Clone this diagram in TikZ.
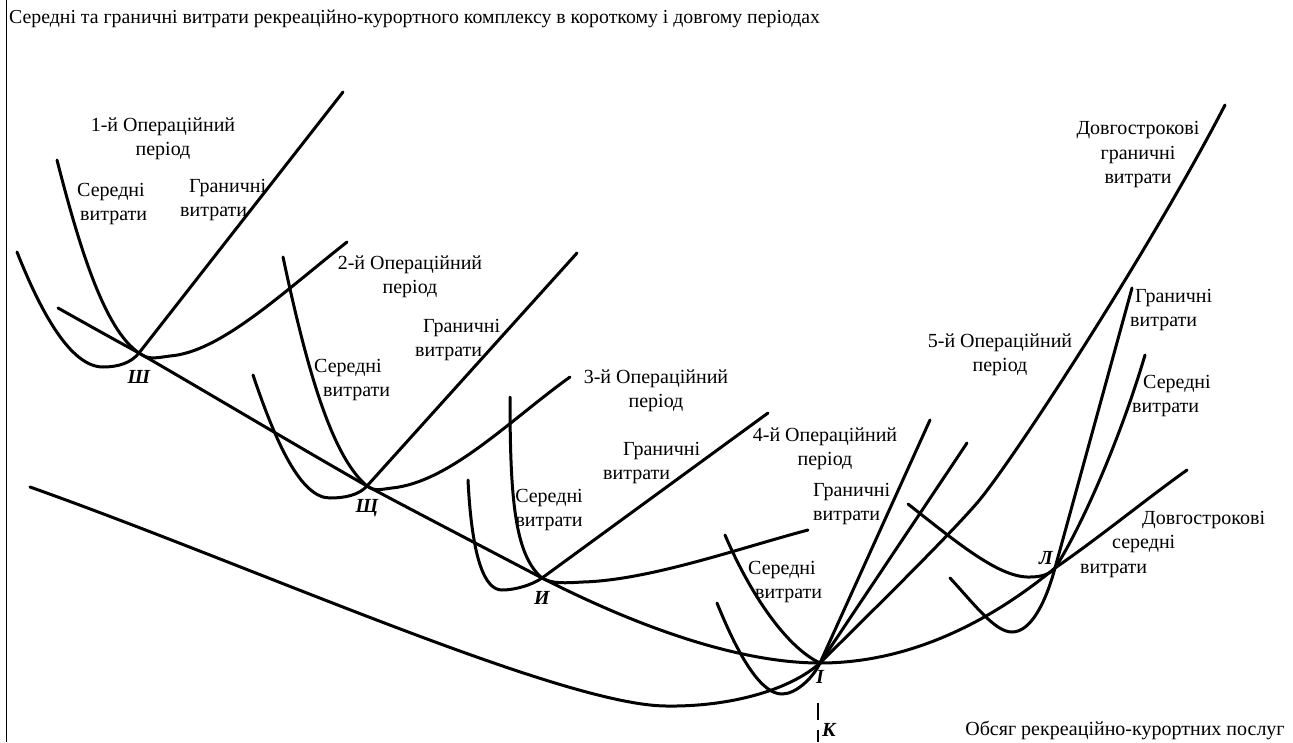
\documentclass[tikz,border=0pt]{standalone}
\usepackage{fontspec}
\setmainfont{Liberation Serif}
\newfontfamily\trfont{Liberation Serif}
\usepackage{tikz}
\usetikzlibrary{positioning}

\begin{document}
\begin{tikzpicture}[x=1pt, y=-1pt,
  curve/.style={line width=3pt, line cap=round, line join=round},
  lbl/.style={align=center, font=\trfont\fontsize{20}{24.5}\selectfont, inner sep=0pt},
  lbll/.style={lbl, align=left, anchor=west},
  ptlbl/.style={font=\trfont\fontsize{20}{24}\selectfont\bfseries\itshape, inner sep=0pt}]
  \useasboundingbox (0,0) rectangle (1293,742);

  % meeting points
  \coordinate (sh) at (139,353);
  \coordinate (shch) at (367,486);
  \coordinate (y) at (542,578);
  \coordinate (i) at (820,663);
  \coordinate (l) at (1055,568);
  \coordinate (ktop) at (818,703);
  \coordinate (kbot) at (818,742);

  \draw[line width=1pt] (6,0) -- (6,742);
  \node[lbl, font=\trfont\fontsize{19.8}{24}\selectfont, anchor=base west] (title) at (9,23)
    {Середні та граничні витрати рекреаційно-курортного комплексу в короткому і довгому періодах};

  % long run
  \draw[curve] (58,308) .. controls (90,326) and (115,340) .. (sh)
    .. controls (215,397) and (290,442) .. (shch)
    .. controls (425,517) and (485,548) .. (y)
    .. controls (640,628) and (740,663) .. (i)
    .. controls (900,663) and (980,630) .. (l)
    .. controls (1100,537) and (1145,500) .. (1187,470);
  \draw[curve] (30,487) .. controls (250,565) and (560,705) .. (666,706)
    .. controls (730,707) and (790,690) .. (i)
    .. controls (860,623) and (945,540) .. (977,503)
    .. controls (1010,465) and (1150,250) .. (1225,105);

  % periods
  \draw[curve] (17,252) .. controls (40,310) and (70,367) .. (103,367)
    .. controls (118,367) and (131,363) .. (sh) -- (343,92);
  \draw[curve] (57,160) .. controls (80,250) and (105,330) .. (sh)
    .. controls (148,360) and (155,358) .. (170,356)
    .. controls (220,352) and (280,295) .. (347,242);
  \draw[curve] (253,375) .. controls (275,440) and (300,498) .. (330,498)
    .. controls (345,498) and (359,495) .. (shch) -- (577,253);
  \draw[curve] (283,257) .. controls (305,360) and (330,455) .. (shch)
    .. controls (375,492) and (382,489) .. (392,488)
    .. controls (450,482) and (510,420) .. (570,377);
  \draw[curve] (468,480) .. controls (472,560) and (485,590) .. (502,590)
    .. controls (515,590) and (532,585) .. (y) -- (768,413);
  \draw[curve] (510,397) .. controls (510,500) and (515,555) .. (y)
    .. controls (552,584) and (565,583) .. (583,582)
    .. controls (650,580) and (740,548) .. (808,530);
  \draw[curve] (717,603) .. controls (740,660) and (762,694) .. (782,694)
    .. controls (796,694) and (813,678) .. (i) -- (930,420);
  \draw[curve] (725,535) .. controls (752,598) and (788,648) .. (i) -- (967,443);
  \draw[curve] (908,504) .. controls (960,545) and (1000,578) .. (1030,577)
    .. controls (1042,577) and (1050,574) .. (l)
    .. controls (1080,530) and (1120,440) .. (1145,355);
  \draw[curve] (950,578) .. controls (975,605) and (995,632) .. (1012,632)
    .. controls (1030,632) and (1045,605) .. (l) -- (1132,288);

  \draw[line width=1.2pt, dash pattern=on 17pt off 10pt] (ktop) -- (kbot);

  \node[lbl] (per1) at (163,139) {1-й Операційний\\період};
  \node[lbll] (sac1) at (77,204) {Середні\\\hspace*{3pt}витрати};
  \node[lbll] (smc1) at (180,200) {\hspace*{9pt}Граничні\\витрати};
  \node[lbl] (per2) at (410,277) {2-й Операційний\\період};
  \node[lbll] (smc2) at (415,340) {\hspace*{8pt}Граничні\\витрати};
  \node[lbll] (sac2) at (314,380) {Середні\\\hspace*{9pt}витрати};
  \node[lbl] (per3) at (656,391) {3-й Операційний\\період};
  \node[lbll] (smc3) at (603,463) {\hspace*{20pt}Граничні\\витрати};
  \node[lbl] (sac3) at (549,510) {Середні\\витрати};
  \node[lbl] (per4) at (825,449) {4-й Операційний\\період};
  \node[lbll] (smc4) at (813,504) {Граничні\\витрати};
  \node[lbll] (sac4) at (748,582) {Середні\\\hspace*{7pt}витрати};
  \node[lbl] (per5) at (1000,355) {5-й Операційний\\період};
  \node[lbl] (lrmc) at (1138,155) {Довгострокові\\граничні\\витрати};
  \node[lbll] (smc5) at (1130,310) {\hspace*{5pt}Граничні\\витрати};
  \node[lbll] (sac5) at (1132,396) {\hspace*{11pt}Середні\\витрати};
  \node[lbll] (lrac) at (1080,544) {\hspace*{62pt}Довгострокові\\\hspace*{32pt}середні\\витрати};
  \node[lbl] (qty) at (1125,730) {Обсяг рекреаційно-курортних послуг};

  \node[ptlbl, below=17pt of sh] (shlbl) {Ш};
  \node[ptlbl, below=13pt of shch] (shchlbl) {Щ};
  \node[ptlbl, below=13pt of y] (ylbl) {И};
  \node[ptlbl, below=7pt of i] (ilbl) {I};
  \node[ptlbl, above left=3pt and 2pt of l] (llbl) {Л};
  \node[ptlbl] (klbl) at (829,730) {К};
\end{tikzpicture}
\end{document}
